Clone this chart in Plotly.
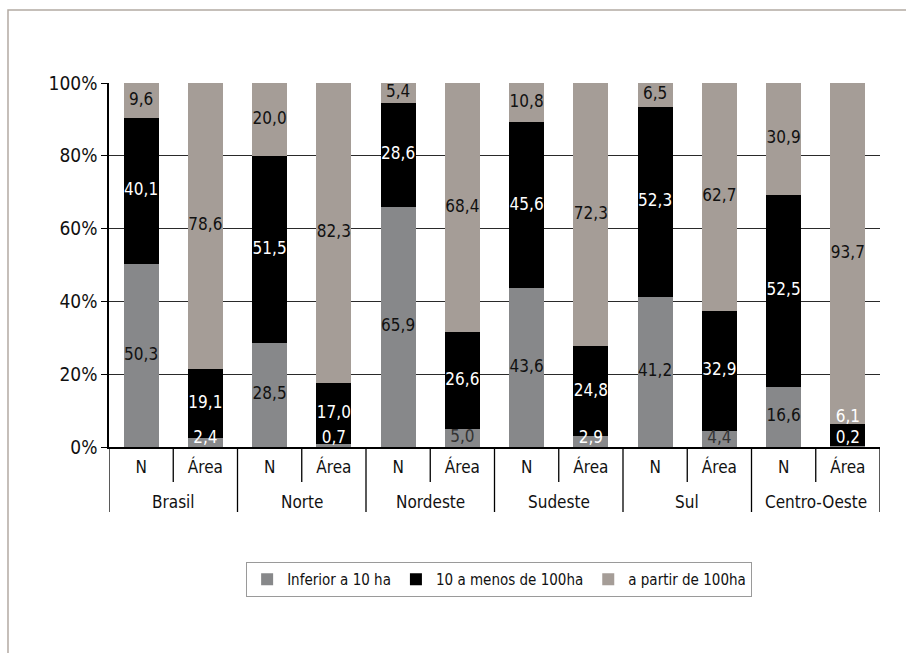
import numpy as np
import plotly.graph_objects as go

# Estabelecimentos (N) e área, por grupo de área total e região (%)
regions = ["Brasil", "Norte", "Nordeste", "Sudeste", "Sul", "Centro-Oeste"]
measures = ["N", "Área"]
series_names = ["Inferior a 10 ha", "10 a menos de 100ha", "a partir de 100ha"]
inferior = [50.3, 2.4, 28.5, 0.7, 65.9, 5.0, 43.6, 2.9, 41.2, 4.4, 16.6, 0.2]
medio = [40.1, 19.1, 51.5, 17.0, 28.6, 26.6, 45.6, 24.8, 52.3, 32.9, 52.5, 6.1]
grande = [9.6, 78.6, 20.0, 82.3, 5.4, 68.4, 10.8, 72.3, 6.5, 62.7, 30.9, 93.7]
y_ticks = [0, 20, 40, 60, 80, 100]

FONT = "Liberation Sans Narrow, DejaVu Sans Condensed, Arial Narrow, Arial, sans-serif"
colors = ["#87888a", "#000000", "#a59d97"]

n_bars = len(regions) * len(measures)
xpos = np.arange(n_bars)
tick_text = measures * len(regions)
series = [np.array(inferior), np.array(medio), np.array(grande)]

fig = go.Figure()
for name, vals, col in zip(series_names, series, colors):
    fig.add_trace(go.Bar(
        x=xpos, y=vals, name=name, marker=dict(color=col, line=dict(width=0)),
        width=0.545, hoverinfo="skip",
    ))

# value labels centred in each segment (small bottom segments kept above the axis)
base = np.zeros(n_bars)
for k, vals in enumerate(series):
    centers = base + vals / 2.0
    if k == 0:
        centers = np.maximum(centers, 2.2)
    if k == 1:
        centers = np.where(vals < 8, np.maximum(centers, 8.0), centers)
    if k == 0:
        tcol = ["#ffffff" if v < 4 else ("#333333" if v < 6 else "#111111") for v in vals]
    elif k == 1:
        tcol = ["#ffffff"] * n_bars
    else:
        tcol = ["#111111"] * n_bars
    fig.add_trace(go.Scatter(
        x=xpos, y=centers, mode="text",
        text=[f"{v:.1f}".replace(".", ",") for v in vals],
        textfont=dict(family=FONT, size=17, color=tcol),
        textposition="middle center", showlegend=False, hoverinfo="skip",
        cliponaxis=False,
    ))
    base = base + vals

shapes = []
# group dividers below the category axis
for i in range(n_bars + 1):
    xb = i - 0.5
    long_div = (i % 2 == 0)
    shapes.append(dict(
        type="line", xref="x", yref="paper", x0=xb, x1=xb, y0=0,
        y1=-0.1786 if long_div else -0.096,
        line=dict(color="#000000", width=1.3),
    ))
# outer frame
shapes.append(dict(
    type="rect", xref="paper", yref="paper", x0=-0.131, x1=1.2, y0=-0.8, y1=1.2005,
    line=dict(color="#b3aaa3", width=1.5), fillcolor="rgba(0,0,0,0)", layer="below",
))

annotations = []
for g, reg in enumerate(regions):
    annotations.append(dict(
        x=2 * g + 0.5, xref="x", y=-0.151, yref="paper", text=reg,
        showarrow=False, yanchor="middle", xanchor="center",
        font=dict(family=FONT, size=17, color="#111111"),
    ))

fig.update_layout(
    width=906, height=653,
    margin=dict(l=109, r=26, t=83, b=206),
    barmode="stack", bargap=0.0,
    paper_bgcolor="#ffffff", plot_bgcolor="#ffffff",
    font=dict(family=FONT, size=17, color="#111111"),
    shapes=shapes, annotations=annotations,
    legend=dict(
        orientation="h", x=0.506, xanchor="center", y=-0.316, yanchor="top",
        bordercolor="#9a9a9a", borderwidth=1, bgcolor="#ffffff",
        font=dict(family=FONT, size=15, color="#111111"),
        traceorder="normal",
    ),
)
fig.update_xaxes(
    range=[-0.5, n_bars - 0.5], tickmode="array", tickvals=xpos, ticktext=tick_text,
    showgrid=False, zeroline=False, showline=True, linecolor="#000000", linewidth=1.5,
    ticks="", ticklabelstandoff=4, tickfont=dict(family=FONT, size=17, color="#111111"),
)
fig.update_yaxes(
    range=[0, 100], tickmode="array", tickvals=y_ticks,
    ticktext=[f"{t}%" for t in y_ticks],
    showgrid=True, gridcolor="#2a2a2a", gridwidth=1.3, zeroline=False,
    showline=True, linecolor="#000000", linewidth=1.5,
    ticks="outside", ticklen=6, tickcolor="#000000",
    tickfont=dict(family=FONT, size=19, color="#111111"),
)

fig.write_html("out.html")
